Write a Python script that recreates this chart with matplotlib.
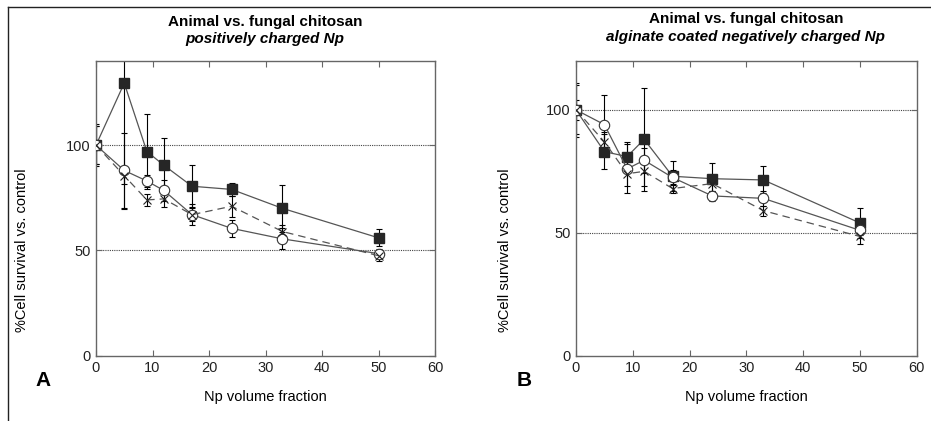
import matplotlib
matplotlib.use("Agg")
import matplotlib.pyplot as plt
from matplotlib.lines import Line2D
from matplotlib import font_manager as fm

fams = [f.name for f in fm.fontManager.ttflist]
FONT = "Liberation Sans Narrow" if "Liberation Sans Narrow" in fams else "Liberation Sans"
plt.rcParams['font.family'] = [FONT, 'DejaVu Sans']

x_vals = [0, 5, 9, 12, 17, 24, 33, 50]

# Panel A: positively charged Np
a_square = [100, 129.5, 97, 90.5, 80.5, 79, 70, 56]
a_square_err = [10, 60, 18, 13, 10, 3, 11, 4]
a_circle = [100, 88, 83, 78.5, 67, 60.5, 55.5, 48.5]
a_circle_err = [9, 18, 3, 5, 5, 4, 5, 2]
a_star = [100, 85.5, 74, 74.5, 67, 71, 59, 47.5]
a_star_err = [9, 4, 3, 4, 3, 5, 3, 2.5]

# Panel B: alginate coated negatively charged Np
b_square = [100, 83, 81, 88, 73, 72, 71.5, 54]
b_square_err = [11, 7, 6, 21, 6, 6.5, 5.5, 6]
b_circle = [100, 94, 76, 79.5, 72.5, 65, 64, 51]
b_circle_err = [4, 12, 10, 5, 3, 2, 3, 2]
b_star = [100, 87, 74, 75, 68, 70, 59, 48.5]
b_star_err = [10, 4, 5, 6, 2, 3, 2, 3]

x_ticks = [0, 10, 20, 30, 40, 50, 60]
y_ticks = [0, 50, 100]

titles = [("Animal vs. fungal chitosan", "positively charged Np"),
          ("Animal vs. fungal chitosan", "alginate coated negatively charged Np")]
panel_letters = ["A", "B"]
xlabel = "Np volume fraction"
ylabel = "%Cell survival vs. control"

W, H = 931, 421
fig = plt.figure(figsize=(W / 100, H / 100), dpi=100)

def fx(px):
    return px / W

def fy(py):
    return 1 - py / H

axA = fig.add_axes([fx(96), fy(355.7), fx(435) - fx(96), fy(61) - fy(355.7)])
axB = fig.add_axes([fx(576), fy(355.7), fx(916.7) - fx(576), fy(60.7) - fy(355.7)])

LINE_C = "#555555"
SPINE_C = "#666666"

def draw(ax, sq, sqe, ci, cie, st, ste, ymax):
    ax.set_xlim(0, 60)
    ax.set_ylim(0, ymax)
    for yv in [50, 100]:
        ax.axhline(yv, color="#444444", lw=0.8, ls=(0, (1, 1)), zorder=1)
    ekw = dict(ecolor="black", elinewidth=0.8, capsize=2.2, capthick=0.8)
    ax.errorbar(x_vals, st, yerr=ste, fmt="none", zorder=2, **ekw)
    ax.errorbar(x_vals, ci, yerr=cie, fmt="none", zorder=2, **ekw)
    ax.errorbar(x_vals, sq, yerr=sqe, fmt="none", zorder=2, **ekw)
    ax.plot(x_vals, sq, color=LINE_C, lw=0.9, marker="s", ms=7.5,
            mfc="#262626", mec="#262626", zorder=3)
    ax.plot(x_vals, ci, color=LINE_C, lw=0.9, marker="o", ms=7.5,
            mfc="white", mec="#333333", mew=0.8, zorder=4)
    ax.plot(x_vals, st, color=LINE_C, lw=0.9, ls=(0, (6, 4)), marker="x", ms=6,
            mec="#222222", mew=0.8, zorder=5)
    ax.set_xticks(x_ticks)
    ax.set_yticks(y_ticks)
    ax.tick_params(direction="in", length=4, width=0.8, color=SPINE_C,
                   top=True, right=True, labelsize=10.5, pad=4,
                   labelcolor="#222222")
    for s in ax.spines.values():
        s.set_color(SPINE_C)
        s.set_linewidth(1.0)

draw(axA, a_square, a_square_err, a_circle, a_circle_err, a_star, a_star_err, 140)
draw(axB, b_square, b_square_err, b_circle, b_circle_err, b_star, b_star_err, 120)

# Titles
fig.text(fx(265), fy(22), titles[0][0], ha="center", va="center",
         fontsize=11, fontweight="bold")
fig.text(fx(265), fy(39), titles[0][1], ha="center", va="center",
         fontsize=11, fontweight="bold", style="italic")
fig.text(fx(746), fy(19), titles[1][0], ha="center", va="center",
         fontsize=11, fontweight="bold")
fig.text(fx(746), fy(37), titles[1][1], ha="center", va="center",
         fontsize=11, fontweight="bold", style="italic")

# Axis labels
for cx in [265, 746]:
    fig.text(fx(cx), fy(397), xlabel, ha="center", va="center", fontsize=10.5)
fig.text(fx(22), fy(250), ylabel, ha="center", va="center", rotation=90, fontsize=10.5)
fig.text(fx(505), fy(250), ylabel, ha="center", va="center", rotation=90, fontsize=10.5)

# Panel letters
fig.text(fx(43), fy(381), panel_letters[0], ha="center", va="center",
         fontsize=15, fontweight="bold", family=["Liberation Sans", "DejaVu Sans"])
fig.text(fx(524), fy(381), panel_letters[1], ha="center", va="center",
         fontsize=15, fontweight="bold", family=["Liberation Sans", "DejaVu Sans"])

# Outer frame (top and left edges)
fig.add_artist(Line2D([fx(8), fx(8)], [0, fy(7)], color="#222222", lw=1.0))
fig.add_artist(Line2D([fx(8), 1], [fy(7), fy(7)], color="#222222", lw=1.0))

fig.savefig("out.png", dpi=100)
